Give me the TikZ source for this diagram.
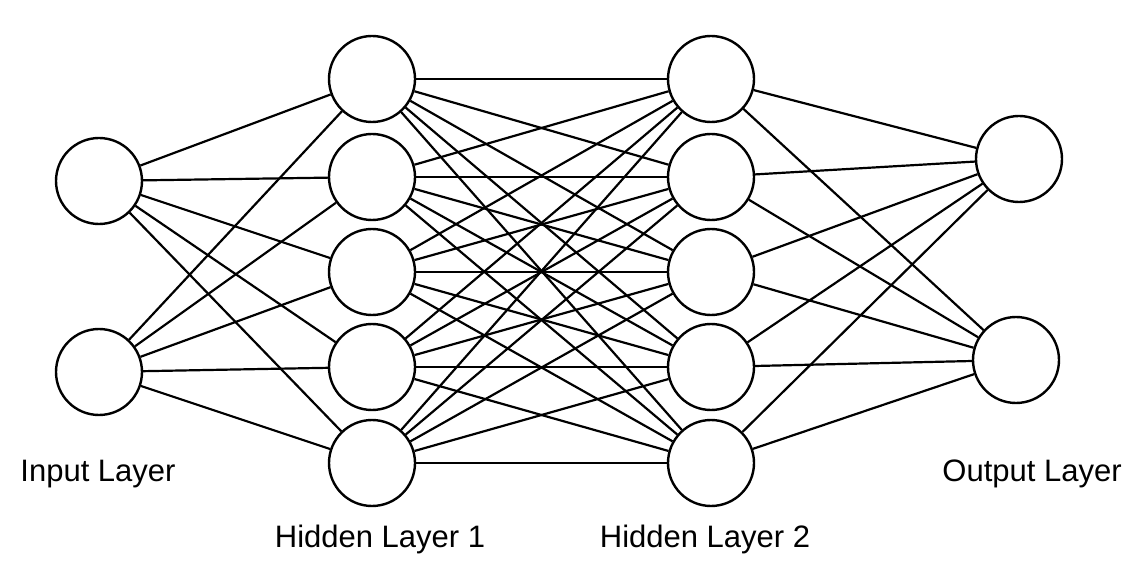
\documentclass[tikz,border=0pt]{standalone}
\usepackage{fontspec}
\setmainfont{Liberation Sans}
\tikzset{
  neuron/.style={circle, draw, fill=white, line width=1.2pt, minimum size=43pt, inner sep=0pt},
  layerlabel/.style={font=\fontsize{15.5}{18}\selectfont, inner sep=0pt},
}
\begin{document}
\begin{tikzpicture}[x=0.5pt, y=-0.5pt, line width=1.1pt]
  \useasboundingbox (0,0) rectangle (1141,572);
  \node[neuron] (in1) at (99,181) {}; % 入力層
  \node[neuron] (in2) at (99,372) {};
  \foreach \k/\y in {1/79,2/177,3/272,4/367,5/463} {
    \node[neuron] (ha\k) at (372,\y) {}; % 隠れ層 1
    \node[neuron] (hb\k) at (711,\y) {}; % 隠れ層 2
  }
  \node[neuron] (out1) at (1019,159) {}; % 出力層
  \node[neuron] (out2) at (1016,360) {};
  \foreach \j in {1,...,5} {
    \foreach \i in {1,2} {
      \draw (in\i) -- (ha\j);
      \draw (hb\j) -- (out\i);
    }
    \foreach \k in {1,...,5}
      \draw (ha\j) -- (hb\k); % 全結合
  }
  \node[layerlabel] (inlabel) at (98,474) {Input Layer};
  \node[layerlabel] (halabel) at (380,539) {Hidden Layer 1};
  \node[layerlabel] (hblabel) at (705,539) {Hidden Layer 2};
  \node[layerlabel] (outlabel) at (1032,474) {Output Layer};
\end{tikzpicture}
\end{document}
